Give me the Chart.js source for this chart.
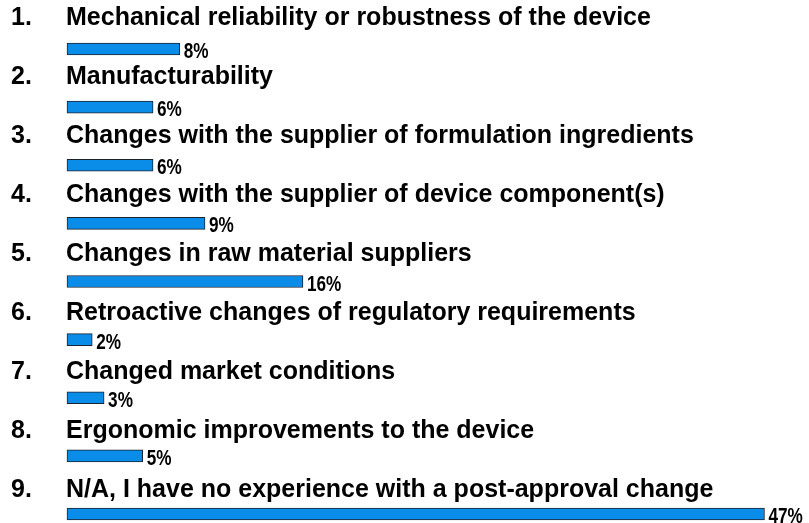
<!DOCTYPE html>
<html>
<head>
<meta charset="utf-8">
<script src="https://cdn.jsdelivr.net/npm/chart.js@4"></script>
<style>
  html, body { margin: 0; padding: 0; background: #fff; }
  #wrap { width: 809px; height: 523px; position: relative; }
</style>
</head>
<body>
<div id="wrap"><canvas id="chart"></canvas></div>
<script>
const categories = [
    'Mechanical reliability or robustness of the device',
    'Manufacturability',
    'Changes with the supplier of formulation ingredients',
    'Changes with the supplier of device component(s)',
    'Changes in raw material suppliers',
    'Retroactive changes of regulatory requirements',
    'Changed market conditions',
    'Ergonomic improvements to the device',
    'N/A, I have no experience with a post-approval change'
];
const values = [7.6, 5.8, 5.8, 9.3, 15.9, 1.7, 2.5, 5.1, 47];
const valueLabels = ['8%', '6%', '6%', '9%', '16%', '2%', '3%', '5%', '47%'];

// question text above each bar, percentage after the bar end
const labelPlugin = {
    id: 'rowLabels',
    afterDatasetsDraw(chart) {
        const ctx = chart.ctx;
        const meta = chart.getDatasetMeta(0);
        ctx.save();
        ctx.fillStyle = '#000';
        ctx.textBaseline = 'alphabetic';
        ctx.textAlign = 'left';
        meta.data.forEach((bar, i) => {
            const y = bar.y;
            const textY = y - 24 + i * 0.9;
            ctx.font = 'bold 25px "Liberation Sans", Arial, sans-serif';
            ctx.fillText((i + 1) + '.', 11, textY);
            ctx.fillText(categories[i], 66, textY);

            // narrow-looking percentage
            ctx.save();
            ctx.translate(bar.x + 4, y + 9);
            ctx.scale(0.78, 1);
            ctx.font = 'bold 22px "Liberation Sans", Arial, sans-serif';
            ctx.fillText(valueLabels[i], 0, 0);
            ctx.restore();
        });
        ctx.restore();
    }
};

new Chart(document.getElementById('chart'), {
    type: 'bar',
    data: {
        labels: categories,
        datasets: [{
            data: values,
            backgroundColor: '#0a8de8',
            borderColor: '#1b2230',
            borderWidth: 1,
            borderSkipped: false,
            barThickness: 12,
            clip: false
        }]
    },
    options: {
        indexAxis: 'y',
        responsive: true,
        maintainAspectRatio: false,
        animation: false,
        layout: { padding: { left: 67, right: 0, top: 49, bottom: 9 } },
        scales: {
            x: { display: false, min: 0, max: 50 },
            y: { display: false, offset: false }
        },
        plugins: {
            legend: { display: false },
            tooltip: { enabled: false }
        }
    },
    plugins: [labelPlugin]
});
</script>
</body>
</html>
